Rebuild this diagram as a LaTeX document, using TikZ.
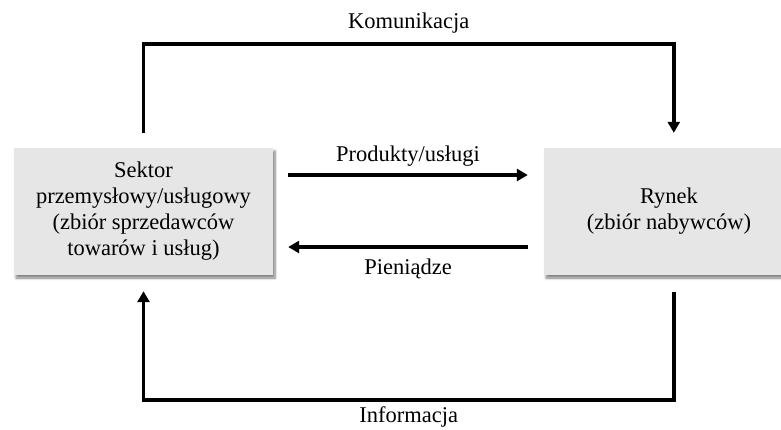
\documentclass[tikz,border=0pt]{standalone}
\usepackage{fontspec}
\setmainfont{Liberation Serif}
\usetikzlibrary{arrows.meta,calc,shadows.blur}
\definecolor{boxgray}{RGB}{230,230,230}
\begin{document}
\begin{tikzpicture}[x=1pt,y=-1pt,
  box/.style={fill=boxgray, draw=none, align=center, minimum height=127pt,
    font=\fontsize{22.5}{26}\selectfont,
    blur shadow={shadow xshift=2pt, shadow yshift=-3pt, shadow blur radius=2.5pt, shadow blur steps=6, shadow opacity=50}},
  flow/.style={line width=3.5pt, -{Triangle[length=11pt,width=12pt]}},
  lbl/.style={font=\fontsize{22.5}{26}\selectfont, inner sep=1pt}]
\useasboundingbox (0,0) rectangle (781,429);
\clip (0,0) rectangle (781,429);
\node[box, minimum width=259pt] (sektor) at (143.5,211.5)
  {Sektor\\przemysłowy/usługowy\\(zbiór sprzedawców\\towarów i usług)};
\node[box, minimum width=250pt] (rynek) at (669,211.5)
  {Rynek\\(zbiór nabywców)};
% Komunikacja
\draw[flow] ($(sektor.north)+(0,-15)$) -- ++(0,-89)
  -| node[lbl, pos=0.25, above=8pt] (kom) {Komunikacja} ($(rynek.north west)+(130,-15)$);
% Informacja
\draw[flow] ($(rynek.south west)+(130,17)$) -- ++(0,108)
  -| node[lbl, inner sep=0pt, pos=0.25, below=5pt] (inf) {Informacja} ($(sektor.south)+(0,16)$);
% Produkty/uslugi
\draw[flow] ($(sektor.east)+(15,-36.5)$) -- node[lbl, above=6pt] (prod) {Produkty/usługi} ($(rynek.west)+(-16,-36.5)$);
% Pieniadze
\draw[flow] ($(rynek.west)+(-16,35.5)$) -- node[lbl, below=9pt] (pien) {Pieniądze} ($(sektor.east)+(15,35.5)$);
\end{tikzpicture}
\end{document}
